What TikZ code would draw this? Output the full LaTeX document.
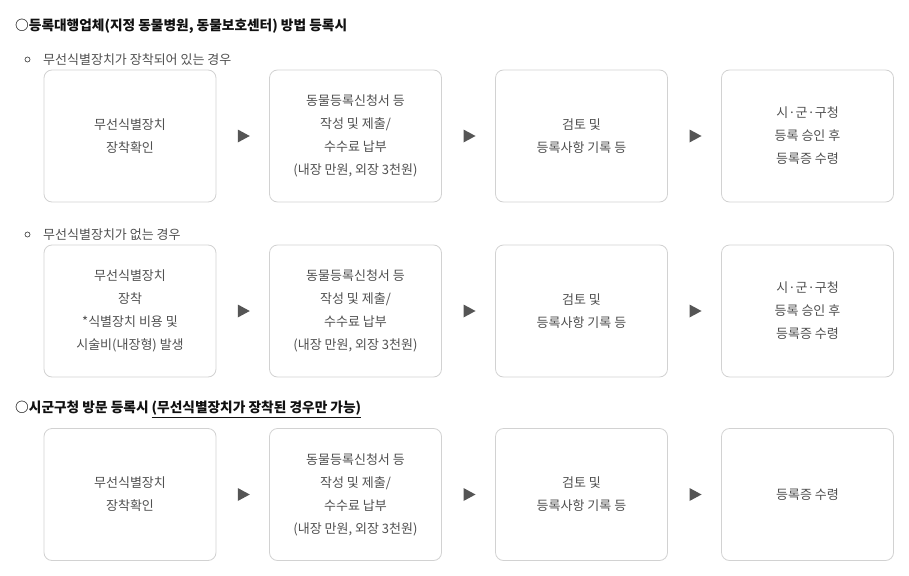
\documentclass[tikz,border=0pt]{standalone}
\usepackage{fontspec}
\setmainfont{Noto Sans CJK KR}
\usetikzlibrary{calc}
\definecolor{boxline}{HTML}{D2D2D2}
\definecolor{txtgray}{HTML}{505050}
\definecolor{arrowgray}{HTML}{555555}
\definecolor{headblack}{HTML}{111111}
\begin{document}
\begin{tikzpicture}[x=1pt,y=-1pt,
 stepbox/.style={draw=boxline, line width=0.8pt, rounded corners=8pt, minimum width=172pt, minimum height=132pt, inner sep=0pt, align=center, text=txtgray, font=\fontsize{13}{23}\selectfont},
 head/.style={anchor=west, inner sep=0pt, text=headblack, font=\fontsize{13.7}{16}\selectfont\bfseries},
 subhead/.style={anchor=west, inner sep=0pt, text=txtgray, font=\fontsize{13}{15}\selectfont},
 bullet/.style={circle, draw=txtgray, line width=0.7pt, minimum size=5pt, inner sep=0pt},
]
\useasboundingbox[fill=white] (0,0) rectangle (909,575);

% section 1
\node[head] (h1) at (15,26) {○등록대행업체(지정 동물병원, 동물보호센터) 방법 등록시};
\node[bullet] (b1) at (27.5,59.5) {};
\node[subhead] (s1) at (43,59.5) {무선식별장치가 장착되어 있는 경우};

\node[stepbox] (r1a) at (130,136) {무선식별장치\\장착확인};
\node[stepbox] (r1b) at (355.5,136) {동물등록신청서 등\\작성 및 제출/\\수수료 납부\\(내장 만원, 외장 3천원)};
\node[stepbox] (r1c) at (581.5,136) {검토 및\\등록사항 기록 등};
\node[stepbox] (r1d) at (807.5,136) {시·군·구청\\등록 승인 후\\등록증 수령};

\node[bullet] (b2) at (27.5,234.5) {};
\node[subhead] (s2) at (43,234.5) {무선식별장치가 없는 경우};

\node[stepbox] (r2a) at (130,311) {무선식별장치\\장착\\*식별장치 비용 및\\시술비(내장형) 발생};
\node[stepbox] (r2b) at (355.5,311) {동물등록신청서 등\\작성 및 제출/\\수수료 납부\\(내장 만원, 외장 3천원)};
\node[stepbox] (r2c) at (581.5,311) {검토 및\\등록사항 기록 등};
\node[stepbox] (r2d) at (807.5,311) {시·군·구청\\등록 승인 후\\등록증 수령};

% section 2
\node[head] (h2) at (15,409.5) {○시군구청 방문 등록시 \underline{(무선식별장치가 장착된 경우만 가능)}};

\node[stepbox] (r3a) at (130,494.5) {무선식별장치\\장착확인};
\node[stepbox] (r3b) at (355.5,494.5) {동물등록신청서 등\\작성 및 제출/\\수수료 납부\\(내장 만원, 외장 3천원)};
\node[stepbox] (r3c) at (581.5,494.5) {검토 및\\등록사항 기록 등};
\node[stepbox] (r3d) at (807.5,494.5) {등록증 수령};

\foreach \a/\b/\m in {r1a/r1b/m1, r1b/r1c/m2, r1c/r1d/m3,
                      r2a/r2b/m4, r2b/r2c/m5, r2c/r2d/m6,
                      r3a/r3b/m7, r3b/r3c/m8, r3c/r3d/m9}{
  \path (\a) -- coordinate[midway] (\m) (\b);
  \fill[arrowgray] ($(\m)+(-5,-6.5)$) -- ($(\m)+(7,0)$) -- ($(\m)+(-5,6.5)$) -- cycle;
}
\end{tikzpicture}
\end{document}
